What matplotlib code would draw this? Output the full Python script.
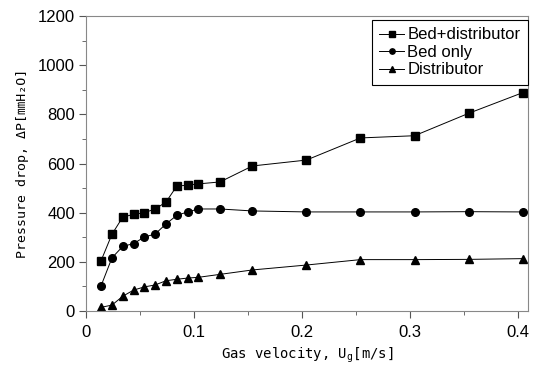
import matplotlib
matplotlib.use("Agg")
import matplotlib.pyplot as plt
from matplotlib.ticker import MultipleLocator

# ==============================
# Data
# ==============================
gas_velocity = [0.014, 0.024, 0.034, 0.044, 0.054, 0.064, 0.074, 0.084, 0.094,
                0.104, 0.124, 0.154, 0.204, 0.254, 0.304, 0.354, 0.404]
bed_distributor = [205, 312, 382, 393, 400, 415, 443, 508, 512, 517, 525, 590,
                   614, 704, 713, 804, 888]
bed_only = [103, 216, 263, 274, 301, 313, 354, 389, 403, 415, 415, 407,
            403, 403, 403, 404, 403]
distributor = [15, 24, 60, 85, 98, 106, 123, 129, 134, 137, 149, 167,
               187, 209, 209, 210, 213]

x_ticks = [0, 0.1, 0.2, 0.3, 0.4]
x_tick_labels = ["0", "0.1", "0.2", "0.3", "0.4"]
y_ticks = [0, 200, 400, 600, 800, 1000, 1200]

# ==============================
# Plot
# ==============================
plt.rcParams['font.family'] = ['Liberation Sans', 'DejaVu Sans']
plt.rcParams['mathtext.default'] = 'regular'

fig = plt.figure(figsize=(5.42, 3.70), dpi=100)
ax = fig.add_axes([86 / 542, 1 - 311 / 370, (528 - 86) / 542, (311 - 16) / 370])

line_kw = dict(color='black', linewidth=0.7, markersize=5.5)
ax.plot(gas_velocity, bed_distributor, marker='s', label='Bed+distributor', **line_kw)
ax.plot(gas_velocity, bed_only, marker='o', label='Bed only', **line_kw)
ax.plot(gas_velocity, distributor, marker='^', label='Distributor', **line_kw)

ax.set_xlim(0, 0.409)
ax.set_ylim(0, 1200)
ax.set_xticks(x_ticks)
ax.set_xticklabels(x_tick_labels)
ax.set_yticks(y_ticks)
ax.xaxis.set_minor_locator(MultipleLocator(0.05))
ax.yaxis.set_minor_locator(MultipleLocator(100))
ax.tick_params(which='both', direction='out', colors='#555555', labelcolor='black',
               labelsize=12)
ax.tick_params(which='major', length=5, pad=5)
ax.tick_params(which='minor', length=3)
ax.tick_params(axis='y', pad=3)
for sp in ax.spines.values():
    sp.set_color('#888888')
    sp.set_linewidth(0.8)

label_font = ['DejaVu Sans Mono', 'Noto Sans CJK KR']
ax.set_xlabel('Gas velocity, U$_{g}$[m/s]', family=label_font, fontsize=10,
              labelpad=4)
ax.set_ylabel('Pressure drop, ΔP[㎜H₂O]', family=label_font, fontsize=9.5,
              labelpad=6)

leg = ax.legend(loc='upper right', bbox_to_anchor=(1.0, 0.987), fontsize=12,
                handlelength=1.5, handletextpad=0.2, borderpad=0.45,
                labelspacing=0.15, fancybox=False, framealpha=1,
                borderaxespad=0.0, markerscale=0.7)
leg.get_frame().set_edgecolor('black')
leg.get_frame().set_linewidth(0.8)

plt.savefig('out.png', dpi=100)
plt.close()
